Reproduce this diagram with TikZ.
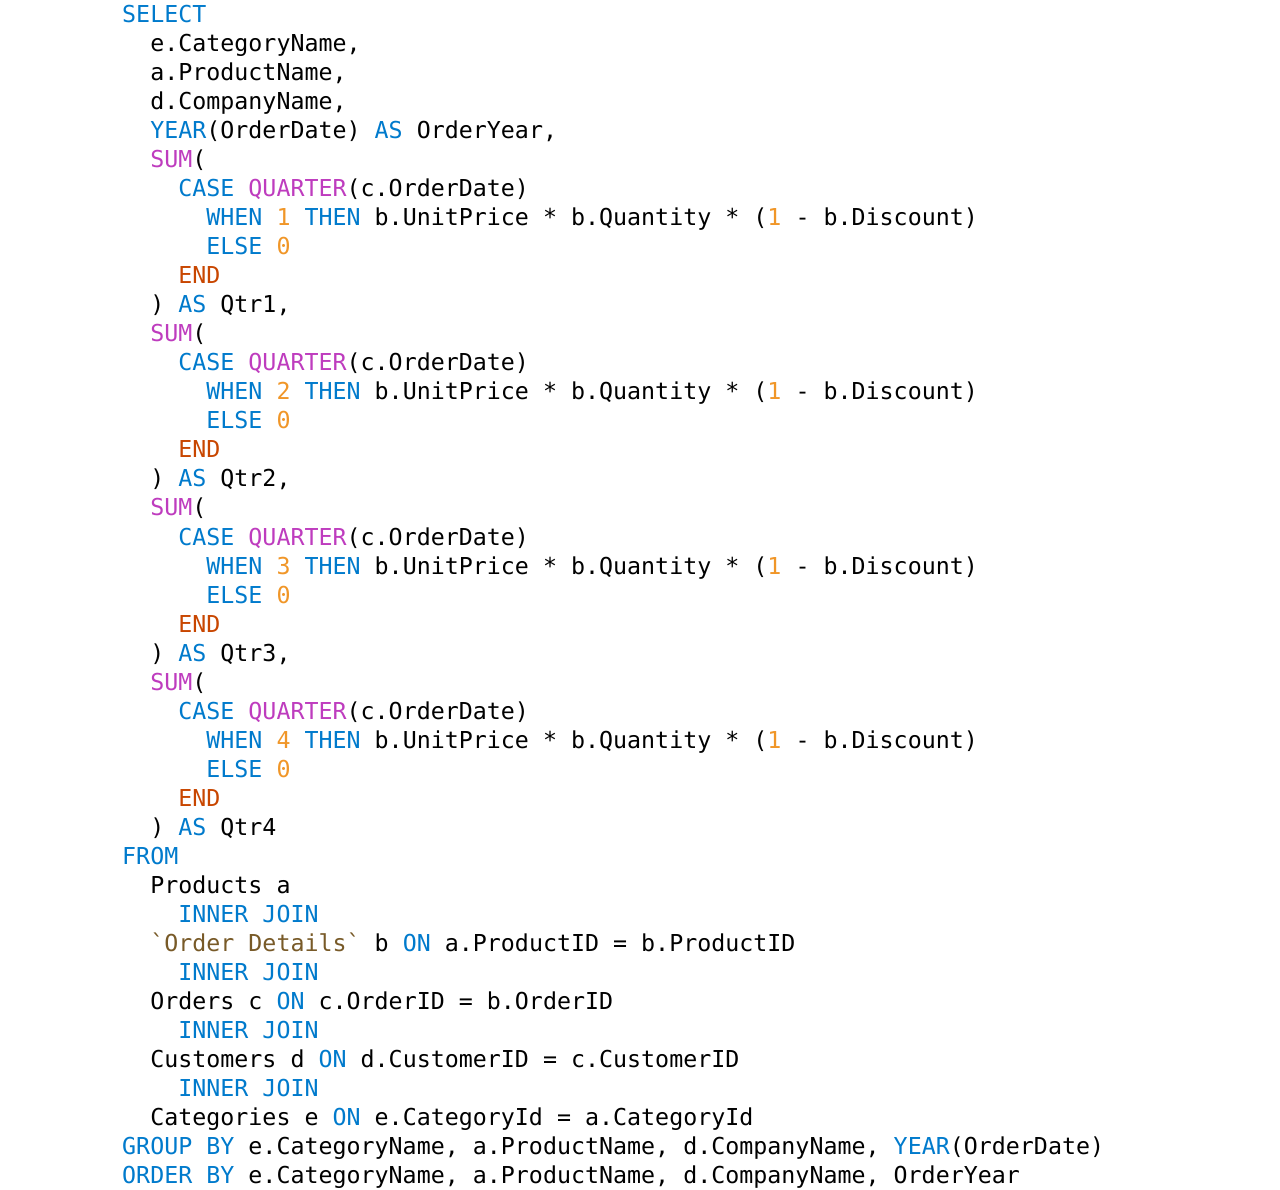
\documentclass[tikz,border=0pt]{standalone}
\usepackage{fontspec}
\setmonofont{DejaVu Sans Mono}
\definecolor{kw}{RGB}{0,122,204}
\definecolor{fn}{RGB}{190,60,190}
\definecolor{nm}{RGB}{240,150,40}
\definecolor{en}{RGB}{200,70,0}
\definecolor{st}{RGB}{120,90,40}
\newcommand\K[1]{\textcolor{kw}{#1}}
\newcommand\F[1]{\textcolor{fn}{#1}}
\newcommand\N[1]{\textcolor{nm}{#1}}
\newcommand\E[1]{\textcolor{en}{#1}}
\newcommand\St[1]{\textcolor{st}{#1}}
\tikzset{codeline/.style={anchor=base west,inner sep=0pt,font=\ttfamily\fontsize{23.3}{23.3}\selectfont}}
\newcommand\Ln[3]{\node[codeline] (l#1) at ({122+14.03*#2},{1190-22.5-29.03*(#1-1)}) {#3};}
\begin{document}
\begin{tikzpicture}[x=1pt,y=1pt]
\useasboundingbox (0,0) rectangle (1280,1190);
\Ln{1}{0}{\K{SELECT}}
\Ln{2}{2}{e.CategoryName,}
\Ln{3}{2}{a.ProductName,}
\Ln{4}{2}{d.CompanyName,}
\Ln{5}{2}{\K{YEAR}(OrderDate) \K{AS} OrderYear,}
\Ln{6}{2}{\F{SUM}(}
\Ln{7}{4}{\K{CASE} \F{QUARTER}(c.OrderDate)}
\Ln{8}{6}{\K{WHEN} \N{1} \K{THEN} b.UnitPrice * b.Quantity * (\N{1} - b.Discount)}
\Ln{9}{6}{\K{ELSE} \N{0}}
\Ln{10}{4}{\E{END}}
\Ln{11}{2}{) \K{AS} Qtr1,}
\Ln{12}{2}{\F{SUM}(}
\Ln{13}{4}{\K{CASE} \F{QUARTER}(c.OrderDate)}
\Ln{14}{6}{\K{WHEN} \N{2} \K{THEN} b.UnitPrice * b.Quantity * (\N{1} - b.Discount)}
\Ln{15}{6}{\K{ELSE} \N{0}}
\Ln{16}{4}{\E{END}}
\Ln{17}{2}{) \K{AS} Qtr2,}
\Ln{18}{2}{\F{SUM}(}
\Ln{19}{4}{\K{CASE} \F{QUARTER}(c.OrderDate)}
\Ln{20}{6}{\K{WHEN} \N{3} \K{THEN} b.UnitPrice * b.Quantity * (\N{1} - b.Discount)}
\Ln{21}{6}{\K{ELSE} \N{0}}
\Ln{22}{4}{\E{END}}
\Ln{23}{2}{) \K{AS} Qtr3,}
\Ln{24}{2}{\F{SUM}(}
\Ln{25}{4}{\K{CASE} \F{QUARTER}(c.OrderDate)}
\Ln{26}{6}{\K{WHEN} \N{4} \K{THEN} b.UnitPrice * b.Quantity * (\N{1} - b.Discount)}
\Ln{27}{6}{\K{ELSE} \N{0}}
\Ln{28}{4}{\E{END}}
\Ln{29}{2}{) \K{AS} Qtr4}
\Ln{30}{0}{\K{FROM}}
\Ln{31}{2}{Products a}
\Ln{32}{4}{\K{INNER JOIN}}
\Ln{33}{2}{\St{\textasciigrave Order Details\textasciigrave} b \K{ON} a.ProductID = b.ProductID}
\Ln{34}{4}{\K{INNER JOIN}}
\Ln{35}{2}{Orders c \K{ON} c.OrderID = b.OrderID}
\Ln{36}{4}{\K{INNER JOIN}}
\Ln{37}{2}{Customers d \K{ON} d.CustomerID = c.CustomerID}
\Ln{38}{4}{\K{INNER JOIN}}
\Ln{39}{2}{Categories e \K{ON} e.CategoryId = a.CategoryId}
\Ln{40}{0}{\K{GROUP BY} e.CategoryName, a.ProductName, d.CompanyName, \K{YEAR}(OrderDate)}
\Ln{41}{0}{\K{ORDER BY} e.CategoryName, a.ProductName, d.CompanyName, OrderYear}
\end{tikzpicture}
\end{document}
